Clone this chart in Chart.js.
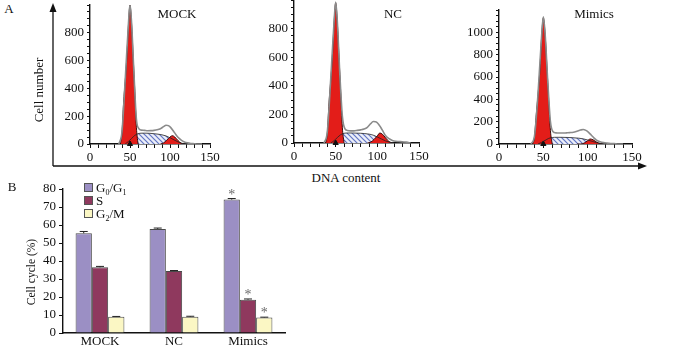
<!DOCTYPE html>
<html>
<head>
<meta charset="utf-8">
<script src="https://cdn.jsdelivr.net/npm/chart.js@4.4.1/dist/chart.umd.min.js"></script>
<style>
  html, body { margin: 0; padding: 0; background: #fff; overflow: hidden; }
  #page {
    position: relative; width: 700px; height: 351px; overflow: hidden;
    font-family: "Liberation Serif", "Times New Roman", serif; color: #111;
  }
  .box { position: absolute; }
  .lbl {
    position: absolute; font-size: 13px; line-height: 1; white-space: nowrap;
    transform: translate(-50%, -50%);
  }
  .rot { transform: translate(-50%, -50%) rotate(-90deg); }
  #legend { position: absolute; left: 84px; top: 181px; font-size: 13px; line-height: 13px; }
  #legend div { height: 13px; white-space: nowrap; }
  #legend span.sw {
    width: 7px; height: 7px; border: 1px solid #555; margin-right: 3px;
    display: inline-block; vertical-align: 0px;
  }
  #legend sub { font-size: 8px; vertical-align: -3px; line-height: 0; }
</style>
</head>
<body>
<div id="page">
  <svg class="box" style="left:0;top:0" width="700" height="180">
    <line x1="53" y1="9" x2="53" y2="166" stroke="#111" stroke-width="1.3"/>
    <polygon points="53,3 49.5,12 56.5,12" fill="#111"/>
    <line x1="53" y1="166" x2="640" y2="166" stroke="#111" stroke-width="1.3"/>
    <polygon points="647,166 638,162.5 638,169.5" fill="#111"/>
  </svg>

  <div class="box" style="left:50px;top:-10px;width:175px;height:174px"><canvas id="hist-mock"></canvas></div>
  <div class="box" style="left:254px;top:-15px;width:180px;height:178px"><canvas id="hist-nc"></canvas></div>
  <div class="box" style="left:459px;top:-5px;width:188px;height:169px"><canvas id="hist-mimics"></canvas></div>
  <div class="box" style="left:13px;top:174px;width:287px;height:177px"><canvas id="cycle-bars"></canvas></div>

  <div class="lbl" style="left:9px;top:8px">A</div>
  <div class="lbl" style="left:12px;top:186px">B</div>
  <div class="lbl" style="left:177px;top:13px">MOCK</div>
  <div class="lbl" style="left:393px;top:13px">NC</div>
  <div class="lbl" style="left:594px;top:13px">Mimics</div>
  <div class="lbl rot" style="left:38px;top:90px">Cell number</div>
  <div class="lbl" style="left:346px;top:177px">DNA content</div>
  <div class="lbl rot" style="left:32px;top:272px;font-size:11.5px">Cell cycle (%)</div>

  <div id="legend">
    <div><span class="sw" style="background:#9b8fc4"></span><span>G<sub>0</sub>/G<sub>1</sub></span></div>
    <div><span class="sw" style="background:#8f395e"></span><span>S</span></div>
    <div><span class="sw" style="background:#fbf7c4"></span><span>G<sub>2</sub>/M</span></div>
  </div>
</div>

<script>
// ---- panel A: DNA histograms ----
const HIST_X_TICKS = [0, 50, 100, 150];
const MOCK_Y_TICKS = [0, 200, 400, 600, 800];
const NC_Y_TICKS = [0, 200, 400, 600, 800];
const MIMICS_Y_TICKS = [0, 200, 400, 600, 800, 1000];
const PEAK_MARK_X = [50];

const G1_X = [38, 40, 42, 44, 46, 48, 50, 52, 54, 56, 58, 60];
const S_X = [44, 48, 52, 56, 60, 65, 70, 80, 90, 95, 100, 105, 110, 115, 120];
const G2_X = [88, 92, 96, 100, 103, 106, 110, 114, 118];
const RAW_X = [36, 40, 44, 48, 50, 52, 55, 58, 61, 64, 68, 72, 76, 80, 84, 88, 92, 95, 98, 101, 104, 107, 110, 114, 118, 122, 126, 130, 135, 140];

const MOCK_G1 = [0, 80, 300, 450, 620, 850, 1000, 860, 620, 380, 120, 0];
const MOCK_S = [0, 18, 40, 62, 74, 78, 78, 74, 66, 58, 45, 30, 15, 5, 0];
const MOCK_G2 = [0, 8, 28, 50, 60, 50, 25, 5, 0];
const MOCK_RAW = [0, 90, 460, 860, 1005, 870, 500, 180, 110, 100, 98, 95, 96, 98, 102, 110, 125, 135, 132, 118, 95, 70, 48, 28, 15, 8, 4, 2, 0, 0];

const NC_G1 = [0, 70, 280, 430, 600, 830, 980, 840, 600, 360, 110, 0];
const NC_S = [0, 16, 38, 58, 68, 70, 70, 68, 62, 55, 42, 28, 14, 5, 0];
const NC_G2 = [0, 6, 25, 50, 70, 62, 35, 10, 0];
const NC_RAW = [0, 80, 440, 840, 985, 850, 480, 190, 100, 88, 85, 85, 88, 92, 98, 110, 135, 150, 148, 135, 110, 80, 50, 30, 18, 12, 10, 8, 6, 0];

const MIMICS_G1 = [0, 60, 260, 440, 650, 950, 1130, 980, 700, 400, 120, 0];
const MIMICS_S = [0, 14, 32, 50, 58, 60, 60, 58, 52, 46, 36, 24, 12, 4, 0];
const MIMICS_G2 = [0, 0, 8, 30, 45, 38, 18, 4, 0];
const MIMICS_RAW = [0, 70, 450, 960, 1140, 990, 560, 200, 110, 100, 98, 98, 100, 102, 106, 115, 125, 130, 122, 105, 80, 55, 35, 20, 12, 8, 5, 3, 0, 0];

// ---- panel B: cell cycle bars ----
const GROUPS = ["MOCK", "NC", "Mimics"];
const G0G1 = [55.4, 57.8, 74.1];
const S_PHASE = [36.5, 34.4, 18.5];
const G2M = [9.0, 9.0, 8.6];
const G0G1_ERR = [1.0, 0.5, 0.6];
const S_PHASE_ERR = [0.5, 0.3, 0.4];
const G2M_ERR = [0.2, 0.3, 0.2];
const SIGNIFICANT = [false, false, true];

Chart.defaults.font.family = '"Liberation Serif", "Times New Roman", serif';
Chart.defaults.font.size = 13;
Chart.defaults.color = "#111";

const RED = "#e31d19";
const INK = "#111";

const pts = (xs, ys) => xs.map((x, i) => ({ x, y: ys[i] }));

function hatchPattern() {
  const c = document.createElement("canvas");
  c.width = 5;
  c.height = 5;
  const g = c.getContext("2d");
  g.fillStyle = "#eceff9";
  g.fillRect(0, 0, 5, 5);
  g.strokeStyle = "#6275c4";
  g.lineWidth = 1.2;
  g.beginPath();
  g.moveTo(0, 0); g.lineTo(5, 5);
  g.moveTo(-1, 4); g.lineTo(1, 6);
  g.moveTo(4, -1); g.lineTo(6, 1);
  g.stroke();
  return g.createPattern(c, "repeat");
}

const axisGrid = { drawOnChartArea: false, drawTicks: true, tickLength: 3, color: INK, lineWidth: 1 };
const axisBorder = { color: INK, width: 1.4 };

function makeHistogram(id, g1, s, g2, raw, yMax, yTicks) {
  const line = { pointRadius: 0, cubicInterpolationMode: "monotone" };
  return new Chart(document.getElementById(id), {
    type: "line",
    data: {
      datasets: [
        { ...line, data: pts(RAW_X, raw), borderColor: "#8b8b8b", borderWidth: 1.6, fill: false, order: 0 },
        { ...line, data: pts(S_X, s), borderColor: "#222", borderWidth: 0.8, fill: false, order: 1 },
        {
          type: "scatter", data: pts(PEAK_MARK_X, [0]), pointStyle: "triangle",
          pointRadius: 3, backgroundColor: INK, borderColor: INK, clip: false, order: 1,
        },
        { ...line, data: pts(G1_X, g1), borderColor: "#3a0c0c", borderWidth: 1, backgroundColor: RED, fill: "origin", order: 2 },
        { ...line, data: pts(G2_X, g2), borderColor: "#3a0c0c", borderWidth: 1, backgroundColor: RED, fill: "origin", order: 3 },
        { ...line, data: pts(S_X, s), borderWidth: 0, backgroundColor: hatchPattern(), fill: "origin", order: 4 },
      ],
    },
    options: {
      responsive: true,
      maintainAspectRatio: false,
      animation: false,
      events: [],
      layout: { padding: { top: 15, right: 15, left: 0, bottom: 0 } },
      plugins: { legend: { display: false }, tooltip: { enabled: false } },
      scales: {
        x: {
          type: "linear", min: 0, max: 150,
          afterFit: (scale) => { scale.height = 20; },
          ticks: { stepSize: 10, autoSkip: false, maxRotation: 0, padding: 2,
            callback: (v) => (HIST_X_TICKS.includes(v) ? v : "") },
          grid: { ...axisGrid, tickLength: 4 },
          border: axisBorder,
        },
        y: {
          min: 0, max: yMax,
          afterFit: (scale) => { scale.width = 40; },
          ticks: { stepSize: 50, autoSkip: false, padding: 3,
            callback: (v) => (yTicks.includes(v) ? v : "") },
          grid: axisGrid,
          border: axisBorder,
        },
      },
    },
  });
}

makeHistogram("hist-mock", MOCK_G1, MOCK_S, MOCK_G2, MOCK_RAW, 1000, MOCK_Y_TICKS);
makeHistogram("hist-nc", NC_G1, NC_S, NC_G2, NC_RAW, 1000, NC_Y_TICKS);
makeHistogram("hist-mimics", MIMICS_G1, MIMICS_S, MIMICS_G2, MIMICS_RAW, 1200, MIMICS_Y_TICKS);

// error bars + significance stars, placed through the y scale
const errorBars = {
  id: "errorBars",
  afterDatasetsDraw(chart) {
    const { ctx } = chart;
    const y = chart.scales.y;
    ctx.save();
    ctx.lineWidth = 1;
    ctx.strokeStyle = "#222";
    ctx.fillStyle = "#6a6a6a";
    ctx.font = '14px "Liberation Serif", serif';
    ctx.textAlign = "center";
    ctx.textBaseline = "alphabetic";
    chart.data.datasets.forEach((ds, i) => {
      chart.getDatasetMeta(i).data.forEach((bar, j) => {
        const top = y.getPixelForValue(ds.data[j] + ds.errors[j]);
        ctx.beginPath();
        ctx.moveTo(bar.x, bar.y);
        ctx.lineTo(bar.x, top);
        ctx.moveTo(bar.x - 4, top);
        ctx.lineTo(bar.x + 4, top);
        ctx.stroke();
        if (SIGNIFICANT[j]) ctx.fillText("*", bar.x, top);
      });
    });
    ctx.restore();
  },
};

const barStyle = { borderColor: "#4a4a4a", borderWidth: 1, categoryPercentage: 0.66, barPercentage: 1 };

new Chart(document.getElementById("cycle-bars"), {
  type: "bar",
  data: {
    labels: GROUPS,
    datasets: [
      { ...barStyle, label: "G0/G1", data: G0G1, errors: G0G1_ERR, backgroundColor: "#9b8fc4" },
      { ...barStyle, label: "S", data: S_PHASE, errors: S_PHASE_ERR, backgroundColor: "#8f395e" },
      { ...barStyle, label: "G2/M", data: G2M, errors: G2M_ERR, backgroundColor: "#fbf7c4" },
    ],
  },
  options: {
    responsive: true,
    maintainAspectRatio: false,
    animation: false,
    events: [],
    layout: { padding: { top: 15, right: 15, left: 0, bottom: 0 } },
    plugins: { legend: { display: false }, tooltip: { enabled: false } },
    scales: {
      x: {
        afterFit: (scale) => { scale.height = 18; },
        grid: { display: false, drawTicks: false },
        border: axisBorder,
        ticks: { padding: 1 },
      },
      y: {
        min: 0, max: 80,
        afterFit: (scale) => { scale.width = 50; },
        ticks: { stepSize: 10, autoSkip: false, padding: 3 },
        grid: { ...axisGrid, tickLength: 4 },
        border: axisBorder,
      },
    },
  },
  plugins: [errorBars],
});
</script>
</body>
</html>
